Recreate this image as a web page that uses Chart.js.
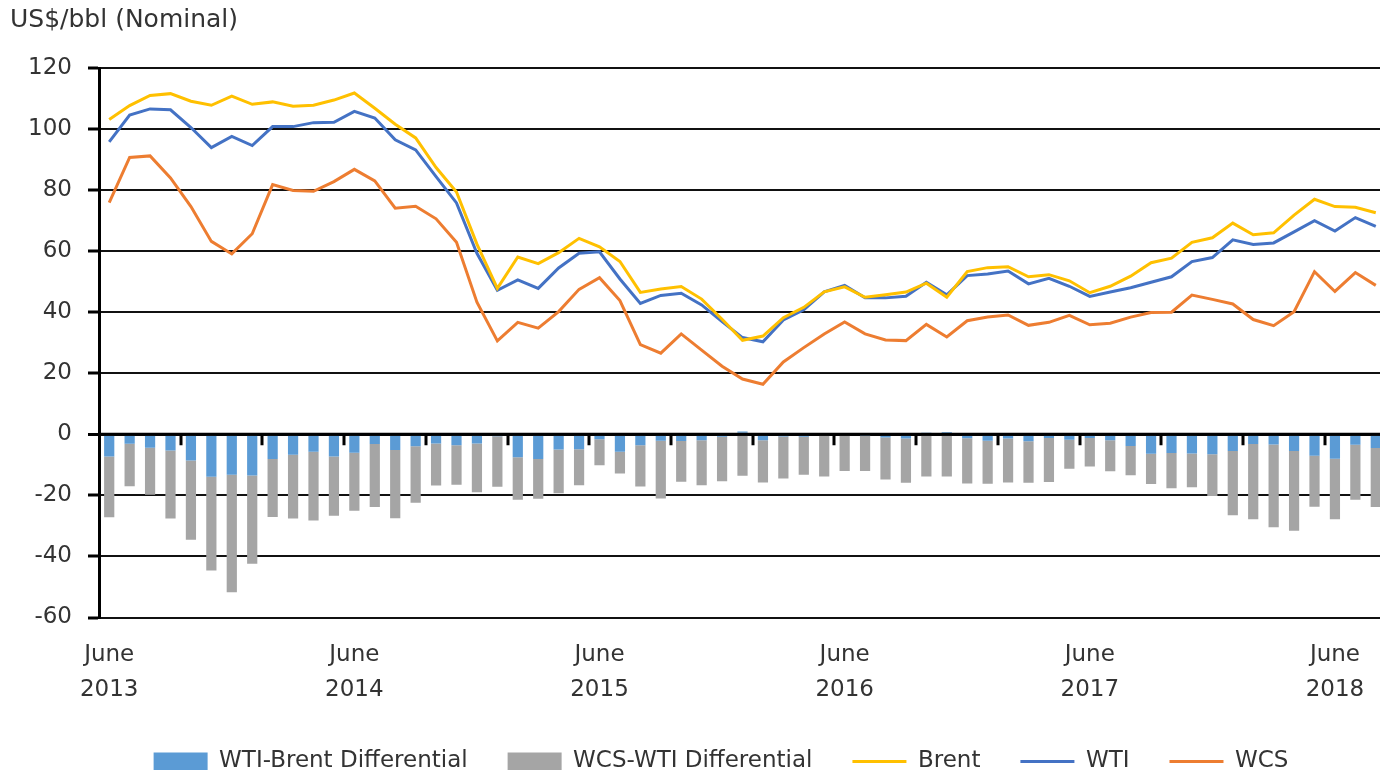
<!DOCTYPE html>
<html>
<head>
<meta charset="utf-8">
<script src="https://cdn.jsdelivr.net/npm/chart.js@4.4.1/dist/chart.umd.min.js"></script>
<style>
  html, body { margin: 0; padding: 0; background: #fff; overflow: hidden; }
  #wrap { position: absolute; left: 0; top: 0; width: 1432px; height: 783px; }
</style>
</head>
<body>
<div id="wrap"><canvas id="oilChart" width="1432" height="783"></canvas></div>
<script>
/* globals Chart:false */

// monthly, June 2013 - August 2018
const monthNames = ['Jan', 'Feb', 'Mar', 'Apr', 'May', 'Jun', 'Jul', 'Aug', 'Sep', 'Oct', 'Nov', 'Dec']
const months = []
for (let i = 0; i < 63; i++) {
  months.push(`${monthNames[(5 + i) % 12]} ${2013 + Math.floor((5 + i) / 12)}`)
}

const tickMonth = 'June'
const tickYears = ['2013', '2014', '2015', '2016', '2017', '2018']
const yTicks = [120, 100, 80, 60, 40, 20, 0, -20, -40, -60]

const brent = [
  103.1, 107.7, 111.0, 111.6, 109.1, 107.8, 110.8,
  108.1, 108.9, 107.5, 107.8, 109.5, 111.8, 106.8, 101.6, 97.1, 87.4, 79.4, 62.3,
  47.8, 58.1, 55.9, 59.5, 64.2, 61.4, 56.6, 46.5, 47.6, 48.4, 44.3, 37.7,
  30.8, 32.2, 38.2, 41.6, 46.7, 48.3, 44.9, 45.7, 46.6, 49.5, 44.9, 53.3,
  54.6, 54.9, 51.6, 52.3, 50.3, 46.4, 48.5, 51.8, 56.2, 57.7, 62.9, 64.4,
  69.2, 65.4, 66.0, 71.8, 77.0, 74.6, 74.4, 72.6
]

const wti = [
  95.8, 104.6, 106.6, 106.3, 100.5, 93.9, 97.6,
  94.6, 100.8, 100.8, 102.1, 102.2, 105.8, 103.6, 96.5, 93.2, 84.4, 75.8, 59.3,
  47.2, 50.6, 47.8, 54.5, 59.3, 59.8, 50.9, 42.9, 45.5, 46.2, 42.4, 36.9,
  31.7, 30.3, 37.5, 40.8, 46.7, 48.8, 44.7, 44.7, 45.2, 49.8, 45.7, 52.0,
  52.5, 53.5, 49.3, 51.1, 48.5, 45.2, 46.6, 48.0, 49.8, 51.6, 56.6, 57.9,
  63.7, 62.2, 62.7, 66.3, 70.0, 66.6, 71.0, 68.1
]

const wcs = [
  75.9, 90.7, 91.2, 84.0, 74.6, 63.2, 59.1,
  65.7, 81.8, 79.9, 79.6, 82.8, 86.8, 83.0, 74.1, 74.7, 70.6, 62.9, 43.3,
  30.6, 36.7, 34.8, 40.2, 47.5, 51.3, 43.8, 29.4, 26.6, 32.9, 27.6, 22.3,
  18.1, 16.4, 23.7, 28.4, 32.9, 36.8, 32.9, 30.9, 30.7, 36.0, 31.9, 37.2,
  38.4, 39.1, 35.7, 36.7, 39.0, 35.9, 36.4, 38.4, 39.9, 40.0, 45.6, 44.2,
  42.7, 37.6, 35.6, 40.2, 53.3, 46.8, 53.0, 48.8
]

const wtiBrentDiff = [
  -7.3, -3.1, -4.4, -5.3, -8.6, -13.9, -13.2,
  -13.5, -8.1, -6.7, -5.7, -7.3, -6.0, -3.2, -5.1, -3.9, -3.0, -3.6, -3.0,
  -0.6, -7.5, -8.1, -5.0, -4.9, -1.6, -5.7, -3.6, -2.1, -2.2, -1.9, -0.8,
  0.9, -1.9, -0.7, -0.8, 0.0, 0.5, -0.2, -1.0, -1.4, 0.3, 0.8, -1.3,
  -2.1, -1.4, -2.3, -1.2, -1.8, -1.2, -1.9, -3.8, -6.4, -6.1, -6.3, -6.5,
  -5.5, -3.2, -3.3, -5.5, -7.0, -8.0, -3.4, -4.5
]

const wcsWtiDiff = [
  -19.9, -13.9, -15.4, -22.3, -25.9, -30.7, -38.5,
  -28.9, -19.0, -20.9, -22.5, -19.4, -19.0, -20.6, -22.4, -18.5, -13.8, -12.9, -16.0,
  -16.6, -13.9, -13.0, -14.3, -11.8, -8.5, -7.1, -13.5, -18.9, -13.3, -14.8, -14.6,
  -13.6, -13.9, -13.8, -12.4, -13.8, -12.0, -11.8, -13.8, -14.5, -13.8, -13.8, -14.8,
  -14.1, -14.4, -13.6, -14.4, -9.5, -9.3, -10.2, -9.6, -9.9, -11.6, -11.0, -13.7,
  -21.0, -24.6, -27.1, -26.1, -16.7, -19.8, -18.0, -19.3
]

;(() => {
  'use strict'

  const textColor = '#333333'
  Chart.defaults.font.family = '"DejaVu Sans", sans-serif'
  Chart.defaults.color = textColor

  // zero line on top of the bars, with tick marks every 4 months
  const zeroAxis = {
    id: 'zeroAxis',
    afterDatasetsDraw(chart) {
      const { ctx, chartArea, scales } = chart
      const y0 = scales.y.getPixelForValue(0)
      const half = (scales.x.getPixelForValue(1) - scales.x.getPixelForValue(0)) / 2
      ctx.save()
      ctx.strokeStyle = '#000'
      ctx.lineWidth = 3
      ctx.beginPath()
      ctx.moveTo(chartArea.left, y0)
      ctx.lineTo(chartArea.right, y0)
      for (let i = 4; i < months.length; i += 4) {
        const px = Math.round(scales.x.getPixelForValue(i) - half)
        ctx.moveTo(px, y0)
        ctx.lineTo(px, y0 + 11)
      }
      ctx.stroke()
      ctx.restore()
    }
  }

  const lineSet = (label, data, color, stack) => ({
    type: 'line',
    label,
    data,
    stack,
    order: 0,
    yAxisID: 'y',
    borderColor: color,
    backgroundColor: color,
    borderWidth: 3,
    pointRadius: 0,
    pointHoverRadius: 0,
    tension: 0,
    fill: false
  })

  const barSet = (label, data, color) => ({
    type: 'bar',
    label,
    data,
    stack: 'diff',
    order: 1,
    yAxisID: 'y',
    backgroundColor: color,
    borderWidth: 0,
    barPercentage: 0.5,
    categoryPercentage: 1
  })

  // eslint-disable-next-line no-unused-vars
  const oilChart = new Chart(document.getElementById('oilChart'), {
    data: {
      labels: months,
      datasets: [
        barSet('WTI-Brent Differential', wtiBrentDiff, '#5B9BD5'),
        barSet('WCS-WTI Differential', wcsWtiDiff, '#A5A5A5'),
        lineSet('Brent', brent, '#FFC000', 'brent'),
        lineSet('WTI', wti, '#4472C4', 'wti'),
        lineSet('WCS', wcs, '#ED7D31', 'wcs')
      ]
    },
    plugins: [zeroAxis],
    options: {
      responsive: false,
      animation: false,
      events: [],
      layout: {
        padding: { left: 10, right: 0, top: 0, bottom: 0 }
      },
      plugins: {
        title: {
          display: true,
          text: 'US$/bbl (Nominal)',
          align: 'start',
          color: textColor,
          font: { size: 25, weight: 'normal' },
          padding: { top: 5, bottom: 33 }
        },
        legend: {
          display: true,
          position: 'bottom',
          labels: {
            usePointStyle: true,
            pointStyleWidth: 54,
            boxHeight: 18,
            padding: 40,
            color: textColor,
            font: { size: 23 },
            generateLabels(chart) {
              const items = Chart.defaults.plugins.legend.labels.generateLabels(chart)
              items.forEach(item => {
                const ds = chart.data.datasets[item.datasetIndex]
                const isLine = ds.type === 'line'
                item.pointStyle = isLine ? 'line' : 'rect'
                item.lineWidth = isLine ? 3 : 0
                item.strokeStyle = isLine ? ds.borderColor : ds.backgroundColor
                item.fillStyle = ds.backgroundColor
              })
              return items.sort((a, b) => a.datasetIndex - b.datasetIndex)
            }
          }
        },
        tooltip: { enabled: false }
      },
      scales: {
        x: {
          type: 'category',
          offset: true,
          afterFit: scale => { scale.height = 92.5 },
          grid: { display: false, drawTicks: false },
          border: { display: false },
          ticks: {
            autoSkip: false,
            maxRotation: 0,
            minRotation: 0,
            padding: 20,
            color: textColor,
            font: { size: 23, lineHeight: 1.52 },
            callback: (value, index) => (index % 12 === 0 ? [tickMonth, tickYears[index / 12]] : '')
          }
        },
        y: {
          type: 'linear',
          position: 'left',
          stacked: true,
          min: -60,
          max: 120,
          afterFit: scale => { scale.width = 89 },
          afterBuildTicks: scale => { scale.ticks = yTicks.map(v => ({ value: v })) },
          grid: {
            color: '#111',
            lineWidth: ctx => (ctx.tick && ctx.tick.value === 0 ? 3 : 2),
            drawTicks: true,
            tickLength: 11,
            tickWidth: 3,
            tickColor: '#000'
          },
          border: { display: true, color: '#000', width: 3 },
          ticks: {
            padding: 16,
            color: textColor,
            font: { size: 23 }
          }
        },
        yRight: {
          type: 'linear',
          position: 'right',
          display: true,
          afterFit: scale => { scale.width = 46 },
          grid: { display: false, drawTicks: false },
          border: { display: false },
          ticks: { display: false }
        }
      }
    }
  })
})()
</script>
</body>
</html>
